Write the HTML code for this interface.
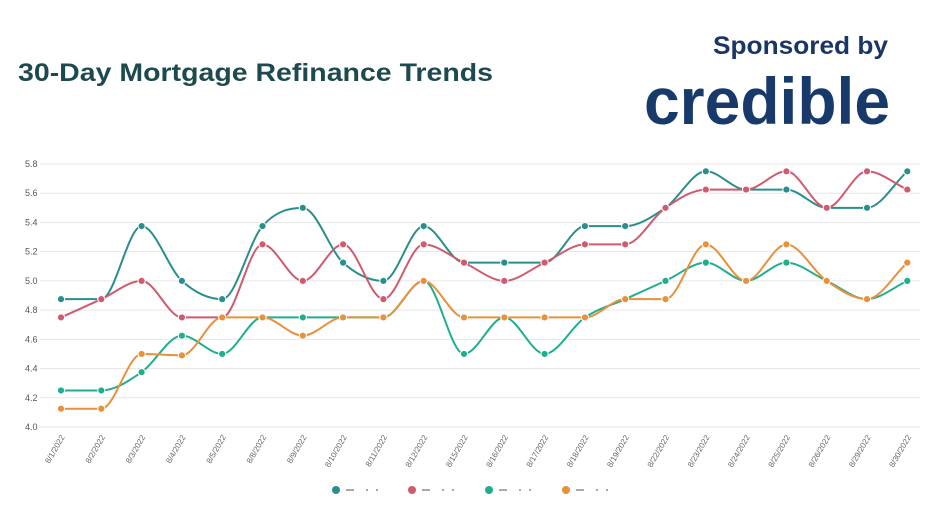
<!DOCTYPE html>
<html><head><meta charset="utf-8"><style>
html,body{margin:0;padding:0;background:#fff;width:932px;height:524px;overflow:hidden}
svg{display:block;font-family:"Liberation Sans",sans-serif}
</style></head><body>
<svg id="chart" width="932" height="524">
<text x="18" y="81" font-size="25" font-weight="bold" fill="#1d4a4f" textLength="475" lengthAdjust="spacingAndGlyphs">30-Day Mortgage Refinance Trends</text>
<text x="713" y="54" font-size="25" font-weight="bold" fill="#1a3566" textLength="175" lengthAdjust="spacingAndGlyphs">Sponsored by</text>
<text x="644" y="124" font-size="66" font-weight="bold" fill="#183a6b" textLength="246" lengthAdjust="spacingAndGlyphs">credible</text>
<g id="grid"></g><g id="lines"></g><g id="xlabels"></g><g id="legend"></g>
</svg>
<script>
const categories=["8/1/2022","8/2/2022","8/3/2022","8/4/2022","8/5/2022","8/8/2022","8/9/2022","8/10/2022","8/11/2022","8/12/2022","8/15/2022","8/16/2022","8/17/2022","8/18/2022","8/19/2022","8/22/2022","8/23/2022","8/24/2022","8/25/2022","8/26/2022","8/29/2022","8/30/2022"];
const seriesA=[4.875,4.875,5.375,5.0,4.875,5.375,5.5,5.125,5.0,5.375,5.125,5.125,5.125,5.375,5.375,5.5,5.75,5.625,5.625,5.5,5.5,5.75];
const seriesB=[4.75,4.875,5.0,4.75,4.75,5.25,5.0,5.25,4.875,5.25,5.125,5.0,5.125,5.25,5.25,5.5,5.625,5.625,5.75,5.5,5.75,5.625];
const seriesC=[4.25,4.25,4.375,4.625,4.5,4.75,4.75,4.75,4.75,5.0,4.5,4.75,4.5,4.75,4.875,5.0,5.125,5.0,5.125,5.0,4.875,5.0];
const seriesD=[4.125,4.125,4.5,4.49,4.75,4.75,4.625,4.75,4.75,5.0,4.75,4.75,4.75,4.75,4.875,4.875,5.25,5.0,5.25,5.0,4.875,5.125];
const yTicks=["4.0","4.2","4.4","4.6","4.8","5.0","5.2","5.4","5.6","5.8"];
const seriesNames=["series-a","series-b","series-c","series-d"];
const NS="http://www.w3.org/2000/svg";
const x0=61,step=40.3,yMin=4.0,yMax=5.8,yTop=164,yBot=427;
const xS=i=>x0+i*step;
const yS=v=>yBot-(v-yMin)/(yMax-yMin)*(yBot-yTop);
function mk(t,a,p){const e=document.createElementNS(NS,t);for(const k in a)e.setAttribute(k,a[k]);p.appendChild(e);return e;}
const grid=document.getElementById('grid');
yTicks.forEach(t=>{const y=yS(+t);
 const l=mk('line',{x1:40,x2:920,y1:y,y2:y,stroke:'#e6e6e6','stroke-width':1},grid);
 
 
 const tx=mk('text',{x:25,y:y+3,'font-size':9,fill:'#555'},grid);tx.textContent=t;
 
 
});
const xl=document.getElementById('xlabels');
categories.forEach((c,i)=>{const x=xS(i)+4,y=437;
 const t=mk('text',{x:x,y:y,'font-size':8,fill:'#666','text-anchor':'end',transform:`rotate(-60 ${x} ${y})`},xl);t.textContent=c;
 
 
});
function monoPath(pts){const n=pts.length;const d=[],m=[];
 for(let i=0;i<n-1;i++)d.push((pts[i+1][1]-pts[i][1])/(pts[i+1][0]-pts[i][0]));
 for(let i=0;i<n;i++){if(i==0)m.push(d[0]);else if(i==n-1)m.push(d[n-2]);else m.push(d[i-1]*d[i]<=0?0:(d[i-1]+d[i])/2);}
 for(let i=0;i<n-1;i++){if(d[i]==0){m[i]=0;m[i+1]=0;continue;}const a=m[i]/d[i],b=m[i+1]/d[i],s=a*a+b*b;if(s>9){const t=3/Math.sqrt(s);m[i]=t*a*d[i];m[i+1]=t*b*d[i];}}
 let p=`M${pts[0][0]},${pts[0][1]}`;
 for(let i=0;i<n-1;i++){const h=(pts[i+1][0]-pts[i][0])/3;p+=`C${pts[i][0]+h},${pts[i][1]+m[i]*h} ${pts[i+1][0]-h},${pts[i+1][1]-m[i+1]*h} ${pts[i+1][0]},${pts[i+1][1]}`;}
 return p;}
const all=[seriesA,seriesB,seriesC,seriesD];
const colors=["#2a8f8c","#d05a6e","#1fae8e","#e8903a"];
const lg=document.getElementById('lines');
all.forEach((s,k)=>{const g=mk('g',{},lg);
 
 
 const pts=s.map((v,i)=>[xS(i),yS(v)]);
 const p=mk('path',{d:monoPath(pts),fill:'none',stroke:colors[k],'stroke-width':2},g);
 
 
 pts.forEach(q=>{const c=mk('circle',{cx:q[0],cy:q[1],r:3.6,fill:colors[k],stroke:'#fff','stroke-width':1},g);
  
  });
});
const leg=document.getElementById('legend');
[336,412,489,566].forEach((x,k)=>{const g=mk('g',{},leg);
 
 
 mk('circle',{cx:x,cy:490,r:4,fill:colors[k]},g);
 mk('rect',{x:x+10,y:489,width:8,height:2,fill:'#aaa'},g);
 mk('rect',{x:x+30,y:489,width:2,height:2,fill:'#aaa'},g);
 mk('rect',{x:x+40,y:489,width:2,height:2,fill:'#aaa'},g);
});
</script>
</body></html>
